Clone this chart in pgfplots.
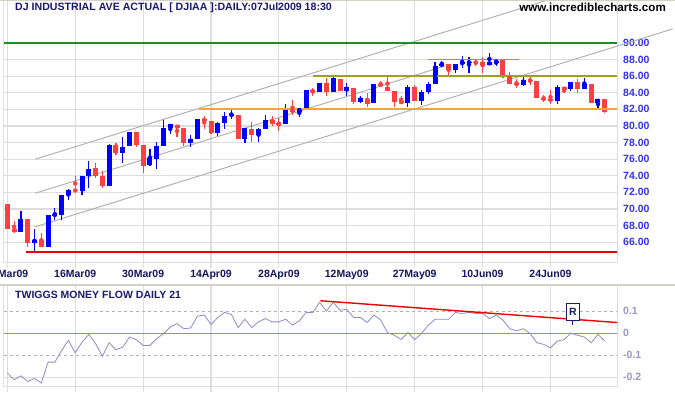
\documentclass[border=0pt]{standalone}
\usepackage{fontspec}
\setmainfont{Liberation Sans}
\usepackage{pgfplots}
\usepackage{pgfplotstable}
\pgfplotsset{compat=1.18}

\definecolor{upc}{RGB}{0,0,255}
\definecolor{dnc}{RGB}{255,64,64}
\definecolor{gridc}{RGB}{221,221,221}
\definecolor{chanc}{RGB}{178,178,178}
\definecolor{titlec}{RGB}{25,25,112}
\definecolor{pricec}{RGB}{50,50,240}
\definecolor{datec}{RGB}{20,20,100}
\definecolor{tmfc}{RGB}{140,140,200}
\definecolor{tmflab}{RGB}{150,150,195}
\definecolor{sepc}{RGB}{212,208,200}
\definecolor{supred}{RGB}{235,0,0}
\definecolor{suporange}{RGB}{245,165,50}

% day index: 0 = 02Mar09 ... 88 = 07Jul09
\pgfplotstableread{
d o h l c
2 67.27 69.76 67.27 68.80
4 65.95 67.59 64.74 66.27
6 65.46 69.28 65.46 69.28
7 69.20 70.08 68.68 69.35
8 69.28 71.69 68.68 71.69
9 71.69 72.40 71.09 72.29
11 72.17 73.98 71.69 73.98
12 73.98 75.79 72.57 74.82
15 72.81 77.80 72.81 77.71
17 76.71 78.72 75.58 77.43
18 77.63 79.28 77.63 79.28
21 75.30 77.23 75.20 76.15
22 76.02 78.11 74.86 77.59
23 77.59 80.72 77.59 79.76
24 79.76 80.24 79.03 80.24
27 77.99 78.91 77.51 78.43
28 78.43 80.84 78.43 80.84
31 79.19 80.52 78.79 80.36
32 80.36 81.73 79.64 81.20
33 81.24 81.93 80.84 81.40
35 78.43 79.76 77.91 79.76
37 78.91 79.80 78.11 79.64
38 79.64 81.28 79.64 80.72
41 80.24 82.61 80.24 81.93
43 81.73 82.13 81.05 82.13
44 82.13 84.34 82.13 84.34
46 84.14 85.14 84.14 85.14
48 84.14 85.90 84.14 85.83
50 84.26 85.14 83.66 84.66
52 82.94 83.66 82.73 83.34
54 82.81 85.10 82.81 85.06
59 82.81 84.94 82.33 84.66
61 83.06 84.34 82.53 84.06
62 84.06 85.34 83.82 85.06
63 85.06 87.67 85.06 87.23
64 87.27 87.84 87.15 87.47
66 86.75 87.50 86.43 87.47
67 87.51 88.44 87.03 87.63
68 87.63 88.36 86.43 87.71
71 87.39 88.76 87.39 87.71
72 87.67 88.03 87.23 87.84
76 84.98 85.87 84.82 85.51
81 83.06 84.94 82.65 84.66
83 84.42 85.26 84.26 85.26
85 84.42 85.83 84.42 85.06
87 82.81 83.26 82.05 83.26
}\upcandles

\pgfplotstableread{
d o h l c
0 70.60 70.60 67.63 67.63
1 67.59 68.56 67.15 67.27
3 68.80 68.80 65.46 65.95
5 66.27 67.07 65.38 65.46
10 72.29 73.98 72.17 72.17
13 74.94 75.58 73.74 74.02
14 74.02 74.58 72.53 72.81
16 77.71 77.99 76.55 76.71
19 79.28 79.28 77.43 77.75
20 77.71 77.71 74.34 75.20
25 80.08 80.08 78.71 79.76
26 79.76 79.76 77.59 77.99
29 80.84 81.20 79.64 80.64
30 80.60 80.60 79.03 79.19
34 81.36 81.36 78.43 78.43
36 79.64 80.48 78.11 78.91
39 80.72 81.20 80.00 80.24
40 80.32 81.00 79.44 80.20
42 81.97 83.13 81.30 81.68
45 84.26 84.62 83.66 84.14
47 85.14 85.75 83.66 84.14
49 85.63 85.63 84.22 84.22
51 84.54 84.54 82.65 82.94
53 83.26 83.94 82.33 82.65
55 85.10 85.43 84.66 84.82
56 84.74 85.95 84.26 84.26
57 84.22 84.22 82.25 82.94
58 82.94 83.66 82.65 82.81
60 84.66 84.94 83.06 83.06
65 87.47 87.47 86.07 86.75
69 87.71 88.03 87.23 87.59
70 87.71 88.28 86.35 87.39
73 87.92 87.92 85.83 86.15
74 86.11 86.47 85.10 85.10
75 85.10 85.67 84.62 84.98
77 85.55 85.95 84.94 85.43
78 85.43 85.43 83.42 83.42
79 83.34 83.74 82.94 83.22
80 83.22 84.34 82.65 83.06
82 84.66 84.66 83.94 84.34
84 85.26 85.63 83.94 84.42
86 85.06 85.06 82.81 82.81
88 83.26 83.26 81.61 81.73
}\downcandles

\pgfplotstableread{
d v
0 -0.180
1 -0.211
2 -0.193
3 -0.219
4 -0.205
5 -0.226
6 -0.131
7 -0.131
8 -0.078
9 -0.032
10 -0.089
11 -0.040
12 -0.005
13 -0.047
14 -0.104
15 -0.043
16 -0.075
17 -0.063
18 -0.017
19 -0.029
20 -0.055
21 -0.055
22 -0.024
23 -0.002
24 0.029
25 0.044
26 0.021
27 0.024
28 0.078
29 0.083
30 0.040
31 0.072
32 0.095
33 0.086
34 0.026
35 0.064
36 0.026
37 0.052
38 0.067
39 0.052
40 0.052
41 0.064
42 0.037
43 0.056
44 0.095
45 0.095
46 0.141
47 0.101
48 0.141
49 0.105
50 0.109
51 0.072
52 0.072
53 0.049
54 0.083
55 0.060
56 0.003
57 -0.009
58 -0.028
59 0.003
60 -0.028
61 -0.001
62 0.037
63 0.064
64 0.064
65 0.064
66 0.095
67 0.090
68 0.095
69 0.090
70 0.090
71 0.067
72 0.083
73 0.060
74 0.021
75 0.011
76 0.021
77 -0.001
78 -0.043
79 -0.050
80 -0.066
81 -0.035
82 -0.029
83 0.001
84 -0.009
85 -0.017
86 -0.043
87 -0.005
88 -0.035
}\tmf

\pgfplotsset{
  lblfont/.style={font=\fontsize{10.5}{12}\selectfont\bfseries},
  panel/.style={
    scale only axis, width=613pt,
    xmin=-0.49, xmax=89.8,
    clip=false,
    axis line style={draw=gridc, line width=1pt},
    xtick={0,10,...,80},
    xmajorgrids,
    major grid style={draw=gridc, line width=1.1pt},
    xtick pos=lower,
    tick align=outside,
    major tick length=5pt,
    xtick style={draw=gridc, line width=1.1pt},
    ytick style={draw=none},
    yticklabel pos=right,
    tick label style={lblfont},
  },
  candle/.style={color=#1, only marks, mark=none, forget plot,
    error bars/.cd, y dir=both, y explicit, error mark=none},
}

\begin{document}
\begin{tikzpicture}[x=1pt,y=1pt]
\useasboundingbox (0,0) rectangle (675,395);
\clip (0,0) rectangle (675,395);
\fill[white] (0,0) rectangle (675,395);

% ---------------- price panel ----------------
\begin{axis}[panel,
  at={(4pt,132pt)}, anchor=south west,
  height=262pt,
  ymin=63.49, ymax=95.06,
  ymajorgrids,
  ytick={66,68,70,72,74,76,78,80,82,84,86,88,90},
  yticklabels={66.00,68.00,70.00,72.00,74.00,76.00,78.00,80.00,82.00,84.00,86.00,88.00,90.00},
  yticklabel style={text=pricec, anchor=west, inner sep=0pt, xshift=1pt},
  xticklabels={02Mar09,16Mar09,30Mar09,14Apr09,28Apr09,12May09,27May09,10Jun09,24Jun09},
  xticklabel style={text=datec, anchor=north, inner sep=0pt, yshift=-2pt},
]
% channel lines
\addplot[color=chanc, line width=1pt] coordinates {(4.12,76.0) (79.16,95.06)};
\addplot[color=chanc, line width=1pt] coordinates {(4.12,71.9) (64.5,87.24)};
\addplot[color=chanc, line width=1pt] coordinates {(4.12,67.85) (98.0,91.7)};
% wicks
\addplot[candle=upc, error bar style={color=upc, line width=1.2pt}]
  table[x=d, y expr={(\thisrow{h}+\thisrow{l})/2}, y error expr={(\thisrow{h}-\thisrow{l})/2}]{\upcandles};
\addplot[candle=dnc, error bar style={color=dnc, line width=1.2pt}]
  table[x=d, y expr={(\thisrow{h}+\thisrow{l})/2}, y error expr={(\thisrow{h}-\thisrow{l})/2}]{\downcandles};
% bodies
\addplot[candle=upc, error bar style={color=upc, line width=5pt}]
  table[x=d, y expr={(\thisrow{o}+\thisrow{c})/2}, y error expr={max(abs(\thisrow{c}-\thisrow{o})/2,0.09)}]{\upcandles};
\addplot[candle=dnc, error bar style={color=dnc, line width=5pt}]
  table[x=d, y expr={(\thisrow{o}+\thisrow{c})/2}, y error expr={max(abs(\thisrow{c}-\thisrow{o})/2,0.09)}]{\downcandles};
% support / resistance
\addplot[color={rgb,255:red,34;green,139;blue,34}, line width=1.5pt] coordinates {(-0.49,90) (89.8,90)};
\addplot[color=suporange, line width=2pt] coordinates {(28.2,82) (89.8,82)};
\addplot[color={rgb,255:red,160;green,160;blue,30}, line width=1.5pt] coordinates {(45.0,86) (89.8,86)};
\addplot[color={rgb,255:red,160;green,160;blue,30}, line width=1.5pt] coordinates {(62.0,88) (75.4,88)};
\addplot[color=supred, line width=2pt] coordinates {(2.8,64.86) (89.8,64.86)};
\end{axis}

% ---------------- money flow panel ----------------
\begin{axis}[panel,
  at={(4pt,8pt)}, anchor=south west,
  height=101pt,
  ymin=-0.244, ymax=0.215,
  ytick={-0.2,-0.1,0,0.1},
  yticklabels={-0.2,-0.1,0,0.1},
  yticklabel style={text=tmflab, anchor=west, inner sep=0pt, xshift=1pt},
  xticklabels=\empty,
]
\addplot[color=gray!60, line width=0.8pt, dashed] coordinates {(-0.49,0.1) (89.8,0.1)};
\addplot[color=gray!60, line width=0.8pt, dashed] coordinates {(-0.49,-0.1) (89.8,-0.1)};
\addplot[color=gridc, line width=1pt] coordinates {(-0.49,-0.2) (89.8,-0.2)};
\addplot[color=tmfc, line width=1pt] coordinates {(-0.49,0) (89.8,0)};
\addplot[color=tmfc, line width=0.8pt] table[x=d, y=v]{\tmf};
\addplot[color=supred, line width=1.4pt] coordinates {(46.1,0.148) (89.8,0.049)};
\draw[titlec, line width=1pt] (axis cs:83.3,0.060) -- (axis cs:83.3,0.036);
\node[draw=titlec, line width=1pt, fill=white, minimum width=13.6pt, minimum height=16.7pt, inner sep=0pt,
  text=titlec, font=\fontsize{10.5}{12}\selectfont\bfseries] at (axis cs:83.3,0.098) {R};
\end{axis}

% separators and texts
\draw[sepc, line width=2pt] (0,395) -- (675,395);
\draw[sepc, line width=2pt] (0,109.5) -- (675,109.5);
\node[anchor=west, inner sep=0pt, text=titlec, font=\fontsize{10.6}{12}\selectfont\bfseries] at (15,387.5)
  {DJ INDUSTRIAL AVE ACTUAL [ DJIAA ]:DAILY:07Jul2009 18:30};
\node[anchor=east, inner sep=0pt, text=black, font=\fontsize{11.6}{13}\selectfont\bfseries] at (666,387.5)
  {www.incrediblecharts.com};
\node[anchor=west, inner sep=0pt, text=titlec, font=\fontsize{10.5}{12}\selectfont\bfseries] at (15,99.7)
  {TWIGGS MONEY FLOW DAILY 21};
\end{tikzpicture}
\end{document}
